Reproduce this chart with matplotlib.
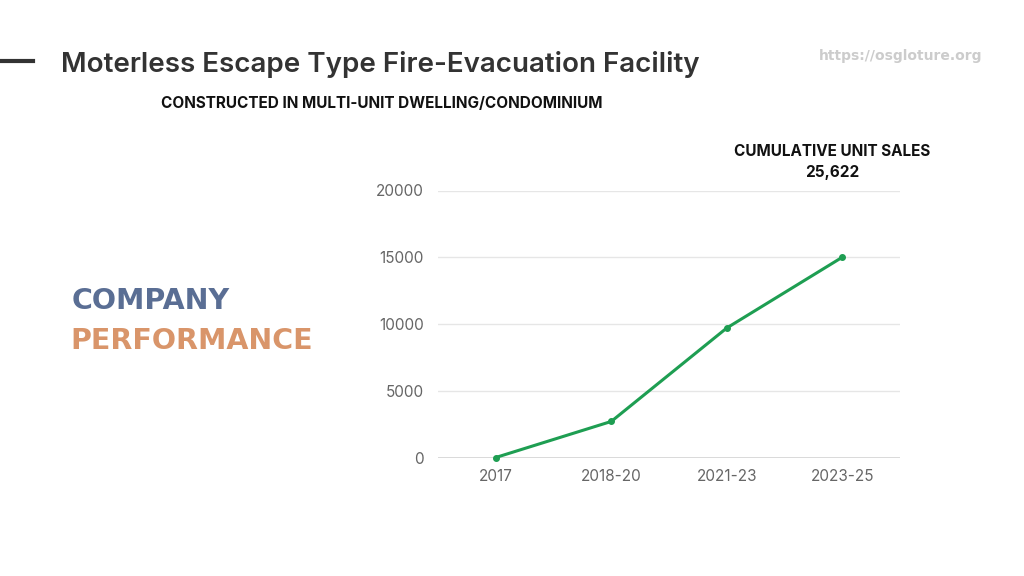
import matplotlib
matplotlib.use("Agg")
import matplotlib.pyplot as plt
from matplotlib.lines import Line2D

categories = ["2017", "2018-20", "2021-23", "2023-25"]
cumulative_sales = [0, 2700, 9700, 15000]
y_ticks = [0, 5000, 10000, 15000, 20000]

title = "Moterless Escape Type Fire-Evacuation Facility"
subtitle = "CONSTRUCTED IN MULTI-UNIT DWELLING/CONDOMINIUM"
url_text = "https://osgloture.org"
annot_label = "CUMULATIVE UNIT SALES"
annot_value = "25,622"

fig = plt.figure(figsize=(10.24, 5.76), dpi=100)
fig.patch.set_facecolor("white")

ax = fig.add_axes([438/1024, 1 - 457.5/576, 462/1024, 267/576])
x = list(range(len(categories)))
ax.plot(x, cumulative_sales, color="#1e9e52", lw=2.2, marker="o", ms=4,
        clip_on=False, zorder=3)
ax.set_xlim(-0.5, len(categories) - 0.5)
ax.set_ylim(0, 20000)
ax.set_xticks(x)
ax.set_xticklabels(categories)
ax.set_yticks(y_ticks)
ax.set_yticklabels([str(v) for v in y_ticks])
for s in ax.spines.values():
    s.set_visible(False)
ax.grid(axis="y", color="#e6e6e6", lw=1)
ax.axhline(0, color="#d4d4d4", lw=1.2, zorder=1)
ax.set_axisbelow(True)
ax.tick_params(axis="both", length=0, labelsize=11, labelcolor="#666666",
               labelfontfamily="Inter")
ax.tick_params(axis="y", pad=10)
ax.tick_params(axis="x", pad=8)

# Decorations
fig.add_artist(Line2D([0, 33/1024], [1 - 61/576, 1 - 61/576], color="#333333", lw=3))
fig.text(61/1024, 1 - 64/576, title, fontsize=20, fontweight="semibold",
         family="Inter", color="#333333", va="center", ha="left")
fig.text(161/1024, 1 - 104/576, subtitle, fontsize=11, fontweight="bold",
         family="Inter", color="#111111", va="center", ha="left")
fig.text(982/1024, 1 - 56/576, url_text, fontsize=10, fontweight="bold",
         family="DejaVu Sans", color="#cccccc", va="center", ha="right")
fig.text(832/1024, 1 - 152/576, annot_label, fontsize=11, fontweight="bold",
         family="Inter", color="#111111", va="center", ha="center")
fig.text(832/1024, 1 - 172/576, annot_value, fontsize=11, fontweight="bold",
         family="Inter", color="#111111", va="center", ha="center")
fig.text(72/1024, 1 - 301/576, "COMPANY", fontsize=20.5, fontweight="bold",
         family="DejaVu Sans", color="#5a6e94", va="center", ha="left")
fig.text(70/1024, 1 - 341/576, "PERFORMANCE", fontsize=20.5, fontweight="bold",
         family="DejaVu Sans", color="#d9956a", va="center", ha="left")

fig.savefig("out.png", dpi=100)
